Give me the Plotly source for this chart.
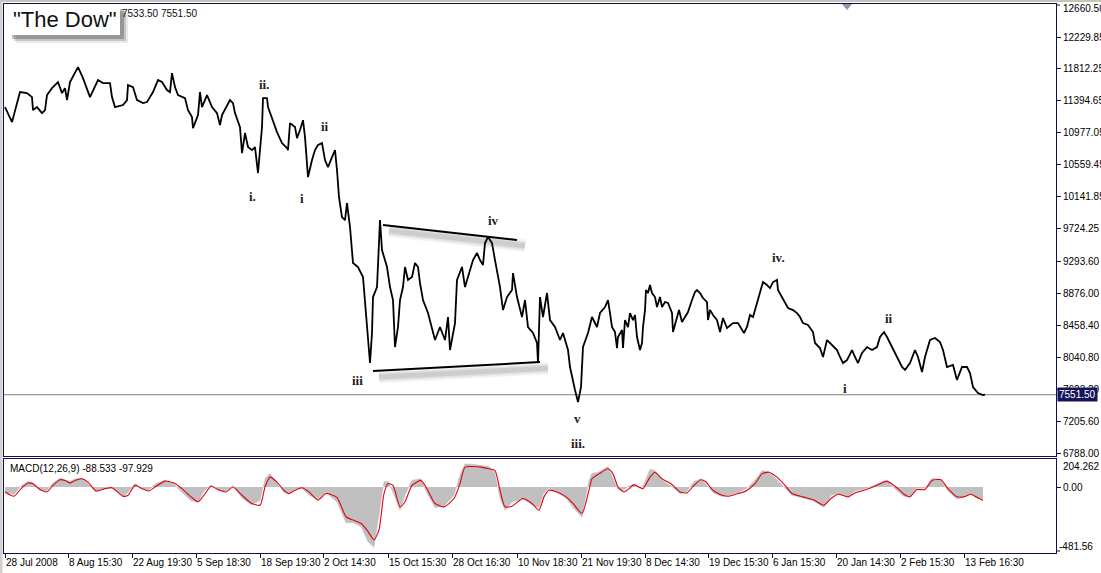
import plotly.graph_objects as go
from plotly.subplots import make_subplots

# ---------------- data ----------------
price_bar = [5, 12, 20, 27, 32, 33, 37, 42, 45, 47, 52, 58, 62, 65, 67, 70, 78, 83, 90, 93, 98, 103, 110, 112, 115,
             123, 127, 128, 133, 137, 143, 147, 153, 158, 162, 167, 170, 172, 175, 178, 185, 188, 192, 193, 198, 200,
             202, 207, 212, 217, 220, 222, 230, 233, 235, 240, 242, 245, 248, 252, 255, 258, 260, 262, 263, 267, 268,
             273, 277, 282, 287, 288, 290, 295, 297, 300, 303, 305, 308, 312, 315, 318, 322, 325, 328, 332, 335, 337,
             338, 339, 342, 345, 347, 350, 353, 358, 363, 367, 370, 372, 373, 377, 378, 380, 382, 387, 390, 393, 395,
             398, 400, 403, 405, 408, 412, 415, 418, 420, 423, 428, 435, 440, 445, 448, 450, 453, 455, 457, 462, 465,
             468, 473, 477, 480, 483, 485, 488, 492, 495, 500, 503, 507, 512, 513, 517, 522, 525, 528, 533, 537, 538,
             540, 543, 547, 550, 555, 560, 563, 568, 570, 575, 578, 581, 583, 588, 592, 597, 600, 605, 608, 610, 612,
             615, 617, 618, 622, 623, 625, 628, 630, 633, 635, 637, 640, 642, 643, 645, 646, 648, 650, 652, 655, 657,
             660, 662, 665, 668, 672, 673, 677, 679, 682, 685, 688, 692, 695, 697, 700, 703, 707, 708, 710, 713, 717,
             720, 723, 727, 730, 733, 738, 742, 744, 747, 750, 753, 757, 760, 763, 767, 770, 773, 777, 778, 782, 785,
             788, 793, 797, 800, 803, 808, 813, 815, 820, 823, 827, 832, 837, 840, 843, 847, 852, 855, 858, 862, 867,
             872, 877, 880, 884, 887, 892, 897, 902, 905, 910, 915, 918, 922, 925, 930, 935, 940, 943, 947, 953, 957,
             962, 967, 970, 973, 978, 983, 985]
price_value = [11314, 11117, 11510, 11497, 11444, 11274, 11314, 11235, 11274, 11471, 11562, 11641, 11497, 11562, 11405,
               11641, 11837, 11693, 11444, 11536, 11667, 11627, 11627, 11444, 11314, 11340, 11405, 11601, 11575, 11405,
               11366, 11379, 11510, 11667, 11641, 11536, 11510, 11758, 11575, 11471, 11431, 11274, 11183, 11039, 11209,
               11510, 11314, 11471, 11314, 11235, 11078, 11209, 11405, 11366, 11235, 11052, 10712, 10974, 10791, 10751,
               10791, 10451, 10712, 11052, 11431, 11431, 11314, 11142, 10987, 10843, 10778, 10751, 11104, 11052, 10908,
               11013, 11142, 10921, 10398, 10621, 10751, 10817, 10843, 10621, 10529, 10660, 10751, 10490, 10294, 10137,
               9875, 9836, 10058, 9745, 9274, 9222, 9091, 8437, 7966, 8359, 8829, 8960, 9222, 9836, 9444, 9222, 8960,
               8790, 8175, 8437, 8790, 8960, 9222, 9052, 9091, 9274, 9222, 9012, 8790, 8620, 8267, 8437, 8267, 8568,
               8136, 8359, 8489, 9052, 9222, 8960, 9091, 9313, 9405, 9313, 9248, 9535, 9614, 9535, 9313, 8960, 8659,
               8829, 8921, 9143, 8829, 8568, 8790, 8437, 8359, 8228, 7966, 8829, 8568, 8882, 8528, 8437, 8267, 8359,
               8136, 7914, 7613, 7456, 7652, 8175, 8359, 8568, 8437, 8620, 8698, 8790, 8620, 8437, 8372, 8162, 8306,
               8398, 8162, 8528, 8437, 8620, 8528, 8594, 8306, 8136, 8228, 8437, 8659, 8921, 8882, 8986, 8882, 8829,
               8698, 8829, 8698, 8764, 8751, 8620, 8372, 8568, 8659, 8502, 8568, 8633, 8790, 8895, 8921, 8882, 8816,
               8764, 8528, 8659, 8594, 8528, 8372, 8555, 8424, 8463, 8489, 8489, 8398, 8359, 8437, 8594, 8568, 8751,
               8855, 9025, 8986, 8947, 9025, 9052, 8921, 8829, 8764, 8685, 8659, 8620, 8568, 8489, 8463, 8372, 8228,
               8162, 8045, 8267, 8202, 8136, 8045, 7966, 8005, 8136, 8045, 7966, 8097, 8175, 8136, 8175, 8306, 8372,
               8306, 8175, 8045, 7914, 7875, 7966, 8136, 8045, 7848, 8045, 8267, 8293, 8241, 8136, 7914, 7940, 7744,
               7914, 7914, 7835, 7652, 7574, 7548, 7551.5]

current_price = 7551.50
header_values = "7533.50 7551.50"

macd_bar = [5, 14, 21, 28, 33, 40, 47, 53, 60, 65, 70, 75, 82, 88, 96, 105, 112, 123, 128, 135, 142, 149, 156, 165,
            174, 182, 191, 198, 204, 211, 218, 226, 233, 242, 251, 260, 265, 270, 277, 284, 289, 295, 302, 309, 318,
            326, 337, 346, 353, 361, 368, 374, 379, 384, 388, 393, 400, 405, 412, 421, 426, 435, 444, 454, 460, 465,
            474, 481, 489, 495, 500, 505, 512, 523, 532, 539, 544, 549, 557, 566, 573, 582, 589, 592, 599, 608, 613,
            618, 624, 629, 634, 639, 643, 650, 655, 662, 671, 680, 687, 694, 701, 706, 713, 722, 729, 738, 746, 755,
            762, 769, 776, 785, 792, 803, 813, 824, 831, 838, 848, 855, 864, 873, 882, 887, 896, 904, 910, 917, 925,
            932, 941, 948, 957, 964, 971, 976, 983]
macd_signal = [-36, -67, -12, 29, 24, -19, -36, 12, 53, 48, 29, 48, 60, 36, -29, -12, -5, -67, -60, 12, -12, -29, 5,
               43, 29, -12, -72, -108, -60, 5, -19, -36, 0, -60, -116, -133, 0, 72, 36, -24, -48, -24, -5, -36, -96,
               -48, -77, -217, -241, -265, -325, -386, -313, -48, 24, 12, -145, -108, 12, 48, 0, -120, -145, -84, 24,
               145, 149, 145, 133, 120, -24, -145, -140, -84, -120, -169, -72, -24, -36, -72, -120, -193, -24, 60, 96,
               133, 96, 0, -36, -12, 17, 0, -12, 72, 108, 60, 24, -36, -43, 12, 53, 36, -24, -60, -67, -48, -29, 24,
               96, 108, 77, 12, -48, -72, -92, -133, -84, -53, -72, -43, -24, 0, 29, 43, 0, -53, -72, -19, -19, 48,
               53, -12, -72, -72, -53, -72, -97.929]
macd_main = [-40, -55, 10, 40, 30, -25, -30, 30, 65, 55, 40, 60, 65, 25, -35, -5, -10, -70, -40, 25, -15, -20, 25, 50,
             20, -40, -100, -110, -30, 15, -25, -30, 10, -80, -130, -100, 60, 100, 30, -40, -50, -15, -10, -60, -90,
             -40, -110, -260, -260, -290, -400, -440, -200, 40, 40, -40, -170, -60, 50, 60, -30, -150, -140, -60, 90,
             170, 165, 160, 150, 100, -80, -170, -110, -90, -130, -150, -40, -10, -40, -80, -150, -220, 50, 100, 110,
             150, 60, -20, -20, 10, 20, -10, 10, 130, 120, 50, 10, -50, -30, 40, 60, 20, -40, -70, -60, -40, -15, 50,
             120, 110, 60, -10, -60, -80, -100, -150, -60, -50, -70, -30, -15, 10, 40, 45, -20, -70, -70, -10, -10,
             65, 50, -30, -90, -70, -50, -80, -88.533]
macd_label = "MACD(12,26,9) -88.533 -97.929"

time_tick_bar = [5, 68, 132, 196, 260, 323, 388, 452, 517, 581, 645, 708, 772, 836, 900, 964]
time_tick_text = ["28 Jul 2008", "8 Aug 15:30", "22 Aug 19:30", "5 Sep 18:30", "18 Sep 19:30", "2 Oct 14:30",
                  "15 Oct 15:30", "28 Oct 16:30", "10 Nov 18:30", "21 Nov 19:30", "8 Dec 14:30", "19 Dec 15:30",
                  "6 Jan 15:30", "20 Jan 14:30", "2 Feb 15:30", "13 Feb 16:30"]

price_ticks = [12660.50, 12229.85, 11812.25, 11394.65, 10977.05, 10559.45, 10141.85, 9724.25, 9293.60, 8876.00,
               8458.40, 8040.80, 7623.20, 7205.60, 6788.00]
macd_ticks = [204.262, 0.00, -481.56]

wave_text = ["ii.", "i.", "i", "ii", "iii", "iv", "v", "iii.", "iv.", "ii", "i"]
wave_bar = [264, 252, 302, 325, 357, 493, 577, 578, 778, 889, 845]
wave_price = [11614, 10150, 10124, 11065, 7744, 9836, 7247, 6920, 9352, 8554, 7639]

# triangle trendlines (bar, price) start/end
upper_line = [(383, 9770), (517, 9575)]
lower_line = [(373, 7862), (540, 7979)]

title_text = '"The Dow"'

# ---------------- figure ----------------
W, H = 1101, 573
ML, MR, MT, MB = 4, 45, 4, 20
NAVY = "#10104A"
FONT = "Liberation Sans"

fig = make_subplots(rows=2, cols=1, shared_xaxes=True, vertical_spacing=0.0)

fig.add_trace(go.Scatter(x=price_bar, y=price_value, mode="lines",
                         line=dict(color="black", width=1.8), hoverinfo="skip", showlegend=False), row=1, col=1)

fig.add_trace(go.Scatter(x=macd_bar, y=macd_main, mode="lines", fill="tozeroy",
                         fillcolor="#C0C0C0", line=dict(color="#C0C0C0", width=0.5),
                         hoverinfo="skip", showlegend=False), row=2, col=1)
fig.add_trace(go.Scatter(x=macd_bar, y=macd_signal, mode="lines",
                         line=dict(color="#E00010", width=1.1, shape="spline", smoothing=0.6),
                         hoverinfo="skip", showlegend=False), row=2, col=1)

plot_h = H - MT - MB
dom_price = [(H - MB - 456) / plot_h, 1.0]
dom_macd = [0.0, (H - MB - 459) / plot_h]

axis_common = dict(showline=True, linecolor=NAVY, linewidth=1, mirror=True, showgrid=False, zeroline=False,
                   automargin=False)

fig.update_xaxes(range=[4, 1056], **axis_common)
fig.update_xaxes(row=1, col=1, showticklabels=False, ticks="")
fig.update_xaxes(row=2, col=1, tickmode="array", tickvals=time_tick_bar, ticktext=time_tick_text,
                 ticks="outside", ticklen=4, tickcolor=NAVY, ticklabelposition="outside right", tickangle=0,
                 tickfont=dict(family=FONT, size=10, color="black"))

fig.update_yaxes(row=1, col=1, domain=dom_price, range=[6750, 12662], side="right",
                 tickmode="array", tickvals=price_ticks[1:], ticktext=["%.2f" % v for v in price_ticks[1:]],
                 ticks="outside", ticklen=4, tickcolor=NAVY,
                 tickfont=dict(family=FONT, size=10, color="black"), **axis_common)
fig.update_yaxes(row=2, col=1, domain=dom_macd, range=[-481.56, 204.262], side="right",
                 tickmode="array", tickvals=[macd_ticks[1]], ticktext=["%.2f" % macd_ticks[1]],
                 ticks="outside", ticklen=4, tickcolor=NAVY,
                 tickfont=dict(family=FONT, size=10, color="black"), **axis_common)


def px_x(px):
    return (px - ML) / (W - ML - MR)


def px_y(py):
    return (H - MB - py) / plot_h


shapes = []
# current price line
shapes.append(dict(type="line", xref="x domain", yref="y", x0=0, x1=1, y0=current_price, y1=current_price,
                   line=dict(color="#808080", width=1), layer="below"))
# trendline shadows then lines
for (a, b), off in ((upper_line, 75), (lower_line, 80)):
    for w, op in ((12, 0.10), (8, 0.14), (5, 0.18)):
        shapes.append(dict(type="line", xref="x", yref="y", x0=a[0] + 6, y0=a[1] - off,
                           x1=b[0] + 8, y1=b[1] - off,
                           line=dict(color="rgba(120,120,120,%.2f)" % op, width=w), layer="below"))
    shapes.append(dict(type="line", xref="x", yref="y", x0=a[0], y0=a[1], x1=b[0], y1=b[1],
                       line=dict(color="black", width=2)))

# title box shadow + box
for d, op in ((8, 0.10), (6, 0.18), (4, 0.30)):
    shapes.append(dict(type="rect", xref="paper", yref="paper", x0=px_x(8 + d), x1=px_x(120 + d),
                       y0=px_y(35 + d), y1=px_y(5 + d), fillcolor="rgba(40,40,40,%.2f)" % op,
                       line=dict(width=0), layer="above"))
shapes.append(dict(type="rect", xref="paper", yref="paper", x0=px_x(8), x1=px_x(120), y0=px_y(35), y1=px_y(5),
                   fillcolor="white", line=dict(width=0), layer="above"))
# window frame hints
shapes.append(dict(type="rect", xref="paper", yref="paper", x0=px_x(0), x1=px_x(2.5), y0=px_y(573), y1=px_y(0),
                   fillcolor="#D4D0C8", line=dict(width=0), layer="above"))
shapes.append(dict(type="rect", xref="paper", yref="paper", x0=px_x(0), x1=px_x(1101), y0=px_y(2), y1=px_y(0),
                   fillcolor="#C8C4B8", line=dict(width=0), layer="above"))
# chart shift marker (small triangle at the top)
tx, ty = px_x(847), px_y(4)
shapes.append(dict(type="path", xref="paper", yref="paper",
                   path="M %f %f L %f %f L %f %f Z" % (px_x(842), ty, px_x(852), ty, tx, px_y(10)),
                   fillcolor="#8C98AC", line=dict(width=0), layer="above"))

annotations = []
for t, bx, pv in zip(wave_text, wave_bar, wave_price):
    annotations.append(dict(x=bx, y=pv, xref="x", yref="y", text="<b>%s</b>" % t, showarrow=False,
                            font=dict(family="Liberation Serif", size=13, color="#202020")))

annotations.append(dict(x=px_x(120), y=px_y(13), xref="paper", yref="paper", text=header_values,
                        showarrow=False, xanchor="left", yanchor="middle",
                        font=dict(family=FONT, size=10, color="#101010")))
annotations.append(dict(x=px_x(11), y=px_y(20), xref="paper", yref="paper", text=title_text,
                        showarrow=False, xanchor="left", yanchor="middle",
                        font=dict(family=FONT, size=22, color="#111111")))
annotations.append(dict(x=px_x(8), y=px_y(468), xref="paper", yref="paper", text=macd_label,
                        showarrow=False, xanchor="left", yanchor="middle",
                        font=dict(family=FONT, size=10, color="black")))
# top price label of the main window (drawn just inside the top edge)
annotations.append(dict(x=px_x(1061), y=px_y(8), xref="paper", yref="paper", text="%.2f" % price_ticks[0],
                        showarrow=False, xanchor="left", yanchor="middle",
                        font=dict(family=FONT, size=10, color="black")))
shapes.append(dict(type="line", xref="paper", yref="paper", x0=px_x(1056), x1=px_x(1060),
                   y0=px_y(5), y1=px_y(5), line=dict(color=NAVY, width=1)))
# MACD window top / bottom labels (drawn inside the window edges, as in the terminal)
annotations.append(dict(x=px_x(1061), y=px_y(466), xref="paper", yref="paper", text="%.3f" % macd_ticks[0],
                        showarrow=False, xanchor="left", yanchor="middle",
                        font=dict(family=FONT, size=10, color="black")))
annotations.append(dict(x=px_x(1057), y=px_y(546), xref="paper", yref="paper", text="-%.2f" % abs(macd_ticks[2]),
                        showarrow=False, xanchor="left", yanchor="middle",
                        font=dict(family=FONT, size=10, color="black")))
shapes.append(dict(type="line", xref="paper", yref="paper", x0=px_x(1056), x1=px_x(1060),
                   y0=px_y(551), y1=px_y(551), line=dict(color=NAVY, width=1)))
# current price tag on the axis
annotations.append(dict(x=px_x(1057), y=current_price, xref="paper", yref="y", text="%.2f" % current_price,
                        showarrow=False, xanchor="left", yanchor="middle", bgcolor="#14145A",
                        borderpad=1, font=dict(family=FONT, size=10, color="white")))

fig.update_layout(width=W, height=H, margin=dict(l=ML, r=MR, t=MT, b=MB, autoexpand=False),
                  paper_bgcolor="white", plot_bgcolor="white",
                  shapes=shapes, annotations=annotations, showlegend=False)

fig.write_html("out.html", config={"displayModeBar": False},
               post_script="document.body.style.margin='0';document.body.style.overflow='hidden';")
